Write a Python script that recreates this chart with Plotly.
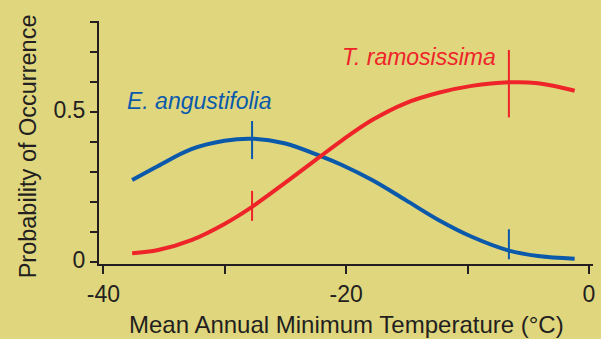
import plotly.graph_objects as go

# Data
temp = [-37.64, -35.5, -32.76, -30.03, -27.76, -25.1, -22.1, -20.4, -17.87, -15.13, -12.4, -9.66, -6.6, -4.19, -1.18]
e_angustifolia = [0.274, 0.321, 0.377, 0.405, 0.412, 0.397, 0.354, 0.325, 0.274, 0.208, 0.141, 0.085, 0.039, 0.021, 0.012]
t_ramosissima = [0.030, 0.041, 0.074, 0.128, 0.185, 0.263, 0.354, 0.405, 0.474, 0.530, 0.565, 0.588, 0.600, 0.597, 0.572]

err_x = [-27.76, -6.6]
e_ang_lo = [0.344, 0.010]
e_ang_hi = [0.471, 0.110]
t_ram_lo = [0.138, 0.483]
t_ram_hi = [0.238, 0.708]

x_tickvals = [-40, -30, -20, -10, 0]
x_ticktext = ["-40", "", "-20", "", "0"]
y_tickvals = [0, 0.1, 0.2, 0.3, 0.4, 0.5, 0.6, 0.7, 0.8]
y_ticktext = ["0", "", "", "", "", "0.5", "", "", ""]

x_title = "Mean Annual Minimum Temperature (°C)"
y_title = "Probability of Occurrence"

BLUE = "#0a59ab"
RED = "#ee2429"
BG = "#dfd67e"
INK = "#231f20"
FONT = "Liberation Sans, Arial, sans-serif"


def segs(xs, lo, hi):
    sx, sy = [], []
    for x, a, b in zip(xs, lo, hi):
        sx += [x, x, None]
        sy += [a, b, None]
    return sx, sy


fig = go.Figure()
fig.add_trace(go.Scatter(x=temp, y=e_angustifolia, mode="lines",
                         line=dict(color=BLUE, width=4, shape="spline", smoothing=1.0),
                         hoverinfo="skip", showlegend=False))
fig.add_trace(go.Scatter(x=temp, y=t_ramosissima, mode="lines",
                         line=dict(color=RED, width=4, shape="spline", smoothing=1.0),
                         hoverinfo="skip", showlegend=False))
bx, by = segs(err_x, e_ang_lo, e_ang_hi)
fig.add_trace(go.Scatter(x=bx, y=by, mode="lines", line=dict(color=BLUE, width=2),
                         hoverinfo="skip", showlegend=False))
rx, ry = segs(err_x, t_ram_lo, t_ram_hi)
fig.add_trace(go.Scatter(x=rx, y=ry, mode="lines", line=dict(color=RED, width=2),
                         hoverinfo="skip", showlegend=False))

fig.add_annotation(x=-38.24, y=0.537, xref="x", yref="y", text="<i>E. angustifolia</i>",
                   showarrow=False, xanchor="left", yanchor="middle",
                   font=dict(family=FONT, size=23, color=BLUE))
fig.add_annotation(x=-20.5, y=0.683, xref="x", yref="y", text="<i>T. ramosissima</i>",
                   showarrow=False, xanchor="left", yanchor="middle",
                   font=dict(family=FONT, size=23, color=RED))

# axis titles placed as annotations for exact positioning
fig.add_annotation(x=0.501, y=-0.3086, xref="paper", yref="paper", text=x_title,
                   showarrow=False, xanchor="center", yanchor="bottom", borderpad=0,
                   font=dict(family=FONT, size=24, color=INK))
fig.add_annotation(x=-0.143, y=0.4856, xref="paper", yref="paper", text=y_title,
                   showarrow=False, xanchor="center", yanchor="middle", textangle=-90,
                   font=dict(family=FONT, size=23.5, color=INK))

fig.update_layout(
    width=601, height=339,
    margin=dict(l=99, r=6, t=21, b=75),
    paper_bgcolor=BG, plot_bgcolor=BG,
    font=dict(family=FONT, size=23, color=INK),
    xaxis=dict(range=[-40.37, 0.33], tickvals=x_tickvals, ticktext=x_ticktext,
               showgrid=False, zeroline=False, showline=True, linecolor=INK, linewidth=2,
               ticks="outside", ticklen=8, tickwidth=2, tickcolor=INK,
               tickfont=dict(size=23, color=INK)),
    yaxis=dict(range=[-0.0057, 0.8043], tickvals=y_tickvals, ticktext=y_ticktext,
               showgrid=False, zeroline=False, showline=True, linecolor=INK, linewidth=2,
               ticks="outside", ticklen=7, tickwidth=2, tickcolor=INK,
               ticklabelshift=-2,
               tickfont=dict(size=23, color=INK)),
)

fig.write_html("out.html", config={"displayModeBar": False},
               post_script="document.body.style.margin='0';")
